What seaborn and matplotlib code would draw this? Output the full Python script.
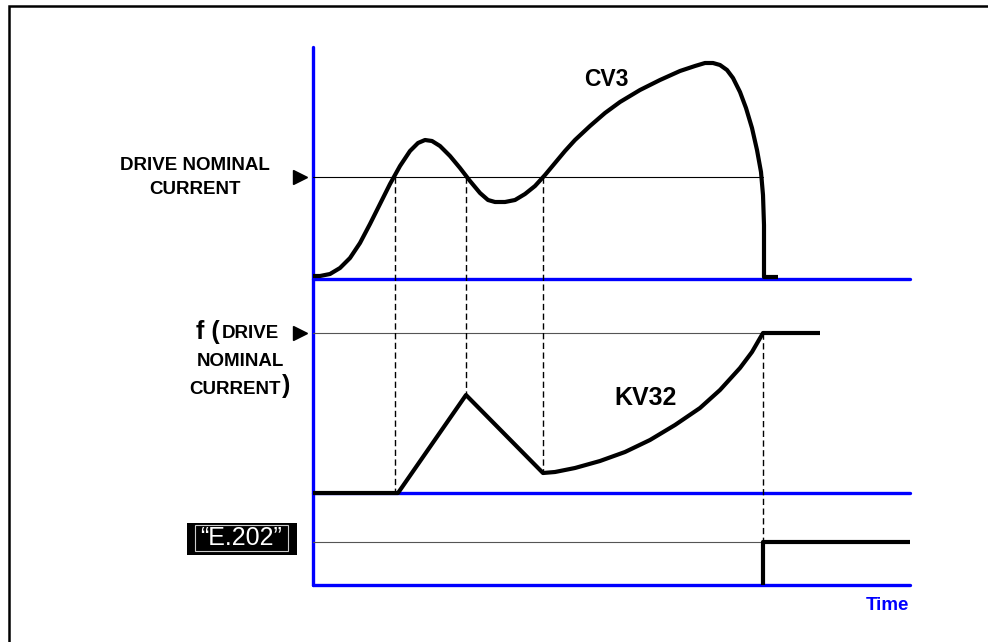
import matplotlib
matplotlib.use("Agg")
import matplotlib.pyplot as plt
import pandas as pd
import seaborn as sns

sns.set_theme(style="white")
plt.rcParams["font.family"] = ["Liberation Sans", "DejaVu Sans"]

# Canvas units: time runs left to right, signal level is measured downward
T0, T_END = 313, 910
NOMINAL = 177          # drive nominal current level in the CV3 panel
F_NOMINAL = 333        # f(drive nominal current) level in the KV32 panel
BASE_CV3, BASE_KV32, BASE_ALARM = 279, 493, 585
ALARM_ON = 542
AXIS_TOP = 47

# CV3 (motor current) trace
cv3_t = [313, 320, 330, 340, 350, 360, 370, 380, 390, 400, 410, 418, 425, 432,
         440, 450, 460, 470, 480, 488, 495, 505, 515, 525, 535, 545, 555, 565,
         575, 590, 605, 620, 640, 660, 680, 695, 705, 713, 720, 727, 733, 740,
         746, 752, 757, 761, 763, 764, 764, 764, 778]
cv3_v = [276, 276, 274, 268, 258, 243, 224, 204, 184, 166, 151, 143, 140, 141,
         146, 156, 168, 181, 193, 200, 202, 202, 200, 194, 186, 175, 163, 151,
         140, 126, 113, 102, 90, 80, 71, 66, 63, 63, 65, 70, 78, 92,
         108, 128, 150, 172, 195, 225, 255, 277, 277]

# KV32 (thermal image) trace
kv32_t = [313, 398, 466, 543, 555, 575, 600, 625, 650, 675, 700, 720, 740, 752, 763, 820]
kv32_v = [493, 493, 395, 473, 472, 468, 461, 452, 440, 425, 408, 390, 368, 352, 333, 333]

# E.202 alarm output
alarm_t = [763, 763, 910]
alarm_v = [585, ALARM_ON, ALARM_ON]

# Instants where CV3 crosses the nominal current, and the trip instant
cross_t = [395, 466, 543]
cross_kv = [493, 395, 473]
trip_t = 763

fig = plt.figure(figsize=(9.88, 6.42), dpi=100)
ax = fig.add_axes([0, 0, 1, 1])
ax.set_xlim(0, 988)
ax.set_ylim(642, 0)
ax.axis("off")

# Outer frame (top and left edges)
ax.plot([8.5, 8.5, 988], [642, 5.5, 5.5], color="black", lw=1.8,
        solid_joinstyle="miter", clip_on=False)

blue = "#0000ff"
ax.plot([T0, T0], [AXIS_TOP, BASE_ALARM], color=blue, lw=2.4, solid_capstyle="round")
for yb in (BASE_CV3, BASE_KV32, BASE_ALARM):
    ax.plot([T0, T_END], [yb, yb], color=blue, lw=2.4, solid_capstyle="round")

# Reference levels
ax.plot([T0, trip_t], [NOMINAL, NOMINAL], color="black", lw=0.8)
ax.plot([T0, trip_t], [F_NOMINAL, F_NOMINAL], color="#555555", lw=0.8)
ax.plot([T0, trip_t], [ALARM_ON, ALARM_ON], color="#555555", lw=0.8)

# Dashed projections
for t, kv in zip(cross_t, cross_kv):
    ax.plot([t, t], [NOMINAL, kv], color="black", lw=1.0, ls=(0, (4.5, 2.5)))
ax.plot([trip_t, trip_t], [F_NOMINAL, BASE_ALARM], color="black", lw=1.0, ls=(0, (4.5, 2.5)))

# Traces
traces = [("CV3", cv3_t, cv3_v), ("KV32", kv32_t, kv32_v), ("E.202", alarm_t, alarm_v)]
for name, t, v in traces:
    df = pd.DataFrame({"t": t, "v": v})
    sns.lineplot(data=df, x="t", y="v", sort=False, estimator=None, ax=ax,
                 color="black", lw=3.0)
for line in ax.get_lines()[-3:]:
    line.set_solid_joinstyle("round")
    line.set_solid_capstyle("butt")

# Level markers
ax.plot([300, 300], [NOMINAL, F_NOMINAL], ls="none", marker=">", ms=10, color="black")

bold = dict(fontweight="bold", color="black")
ax.text(195, 165, "DRIVE NOMINAL", ha="center", va="center", fontsize=13.5, **bold)
ax.text(195, 190, "CURRENT", ha="center", va="center", fontsize=13.5, **bold)
ax.text(196, 332, "f (", ha="left", va="center", fontsize=18, **bold)
ax.text(222, 334, "DRIVE", ha="left", va="center", fontsize=13.5, **bold)
ax.text(240, 361, "NOMINAL", ha="center", va="center", fontsize=13.5, **bold)
ax.text(235, 389, "CURRENT", ha="center", va="center", fontsize=13.5, **bold)
ax.text(282, 386, ")", ha="left", va="center", fontsize=18, **bold)

ax.text(606, 80, "CV3", ha="center", va="center", fontsize=16.5, **bold)
ax.text(646, 398, "KV32", ha="center", va="center", fontsize=18, **bold)
ax.text(887, 606, "Time", ha="center", va="center", fontsize=13.5,
        fontweight="bold", color=blue)

# E.202 label box
ax.add_patch(plt.Rectangle((187, 523), 110, 32, facecolor="black", edgecolor="none"))
ax.add_patch(plt.Rectangle((195, 525), 93, 26, facecolor="none", edgecolor="#cccccc", lw=0.8))
ax.text(241, 538, "\u201cE.202\u201d", ha="center", va="center", fontsize=18, color="white")

fig.savefig("out.png", dpi=100)
